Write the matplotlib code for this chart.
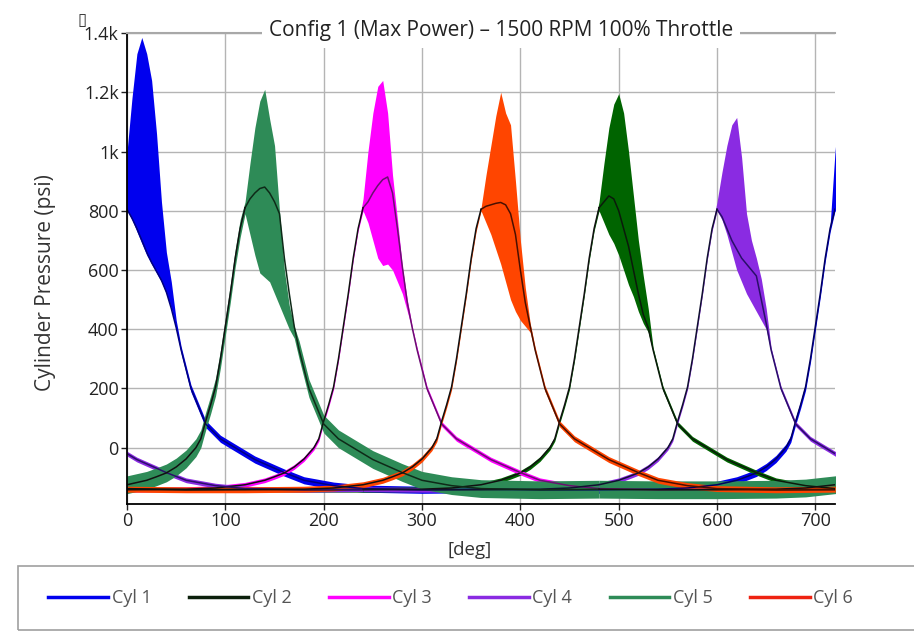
import matplotlib
matplotlib.use("Agg")
import matplotlib.pyplot as plt
import numpy as np
from matplotlib.ticker import FuncFormatter
from matplotlib.lines import Line2D
from matplotlib.patches import Rectangle

plt.rcParams['font.family'] = ['Open Sans', 'DejaVu Sans']

cylinders = ["Cyl 1", "Cyl 2", "Cyl 3", "Cyl 4", "Cyl 5", "Cyl 6"]
tdc_deg = [0, 480, 240, 600, 120, 360]   # firing TDC of each cylinder

# compression stroke (deg rel. to firing TDC, psi)
comp_rel = [-360, -300, -240, -180, -150, -120, -100, -90, -80, -70, -60, -50, -45, -40, -35, -30, -25, -20, -15, -10, -5]
comp_psi = [-140, -142, -142, -140, -136, -125, -110, -98, -85, -65, -38, 0, 30, 90, 145, 205, 300, 410, 520, 640, 740]

# combustion region, cycle to cycle spread (upper / lower envelope) and dark trace
band_rel = [0, 5, 10, 15, 20, 25, 30, 35, 40, 45, 50]
band_hi = [
    [1000, 1180, 1330, 1385, 1330, 1240, 1060, 830, 660, 560, 430],   # Cyl 1
    [830, 960, 1080, 1160, 1195, 1130, 1000, 850, 700, 580, 470],     # Cyl 2
    [840, 1000, 1130, 1220, 1240, 1130, 920, 770, 610, 500, 410],     # Cyl 3
    [830, 930, 1020, 1090, 1115, 980, 790, 700, 640, 570, 470],       # Cyl 4
    [830, 960, 1080, 1170, 1210, 1110, 1020, 800, 600, 480, 410],     # Cyl 5
    [810, 920, 1020, 1120, 1200, 1130, 1090, 900, 700, 540, 420],     # Cyl 6
]
band_lo = [
    [800, 770, 730, 690, 650, 620, 590, 560, 520, 470, 400],
    [800, 760, 720, 690, 650, 600, 550, 510, 460, 420, 390],
    [800, 760, 700, 640, 615, 620, 600, 560, 520, 460, 400],
    [800, 770, 720, 660, 600, 560, 520, 490, 460, 430, 400],
    [790, 720, 650, 590, 575, 560, 520, 480, 440, 400, 370],
    [800, 760, 720, 670, 620, 560, 500, 460, 430, 410, 390],
]
band_mid = [
    [805, 775, 740, 700, 660, 625, 595, 565, 525, 470, 405],
    [810, 830, 850, 840, 800, 740, 680, 600, 520, 450, 405],
    [810, 830, 860, 885, 905, 914, 860, 740, 610, 490, 405],
    [805, 780, 740, 700, 670, 640, 620, 600, 580, 500, 420],
    [810, 840, 860, 875, 880, 860, 830, 790, 640, 520, 410],
    [805, 815, 820, 825, 828, 820, 790, 720, 600, 490, 410],
]

# expansion / exhaust / intake
tail_rel = [55, 65, 80, 95, 110, 130, 160, 180, 210, 240, 300, 360]
tail_psi = [330, 200, 80, 30, 0, -40, -84, -110, -128, -138, -142, -140]

spread_psi = [12, 8, 8, 8, 30, 10]   # band half-thickness outside combustion

fill_colors = ['#0000ee', '#006400', '#ff00ff', '#8a2be2', '#2e8b57', '#ff4500']
dark_colors = ['#000080', '#0b1a0b', '#6a1070', '#2a0f6a', '#0e2a18', '#4a1000']
rise_colors = ['#000060', '#111111', '#111111', '#101030', '#111111', '#111111']
legend_colors = ['#0000ee', '#0b1f0b', '#ff00ff', '#8a2be2', '#2e8b57', '#ee2211']

fig = plt.figure(figsize=(9.14, 6.35), dpi=100)
ax = fig.add_axes([0.139, 0.2063, 0.7746, 0.7417])

for i, name in enumerate(cylinders):
    comp = np.array(comp_psi, dtype=float)
    tail = np.array(tail_psi, dtype=float)
    rel = np.array(comp_rel + band_rel + tail_rel, dtype=float)
    s = spread_psi[i]
    mid = np.concatenate([comp, band_mid[i], tail])
    lo = np.concatenate([comp - s, band_lo[i], tail - s])
    hi = np.concatenate([comp + s, band_hi[i], tail + s])
    n_comp = len(comp_rel)
    for shift in (-720, 0, 720):
        x = rel + tdc_deg[i] + shift
        ax.fill_between(x, lo, hi, color=fill_colors[i], lw=0)
        ax.plot(x[n_comp:], mid[n_comp:], color=dark_colors[i], lw=1.1)
        ax.plot(x[:n_comp + 1], mid[:n_comp + 1], color=rise_colors[i], lw=1.1)

ax.set_xlim(0, 720)
ax.set_ylim(-190, 1400)
ax.set_xticks(np.arange(0, 701, 100))
ax.set_yticks(np.arange(0, 1401, 200))
ax.yaxis.set_major_formatter(FuncFormatter(lambda v, p: f"{v/1000:g}k" if v >= 1000 else f"{v:g}"))
ax.grid(True, color='#b4b4b4', lw=1)
ax.set_axisbelow(True)
ax.spines['right'].set_visible(False)
ax.spines['top'].set_color('#a8a8a8')
ax.spines['top'].set_linewidth(1.5)
ax.spines['left'].set_linewidth(1.3)
ax.spines['bottom'].set_linewidth(1.3)
ax.tick_params(labelsize=13, colors='#222222', length=4, width=1, pad=2)

ax.set_ylabel("Cylinder Pressure (psi)", fontsize=15, color='#333333')
ax.yaxis.set_label_coords(-0.100, 0.47)
fig.text(0.514, 0.134, "[deg]", ha='center', va='center', fontsize=13.5, color='#333333')

fig.text(0.548, 0.952, "Config 1 (Max Power) \u2013 1500 RPM 100% Throttle", ha='center', va='center',
         fontsize=15, color='#222222',
         bbox=dict(facecolor='white', edgecolor='none', pad=5))
fig.text(0.09, 0.967, "\u25af", ha='center', va='center', fontsize=12, color='#333333')

# legend frame
fig.patches.append(Rectangle((0.02, 0.008), 0.985, 0.1, transform=fig.transFigure,
                             facecolor='none', edgecolor='#a0a0a0', lw=1.2))
handles = [Line2D([], [], color=c, lw=2.5) for c in legend_colors]
fig.legend(handles, cylinders, loc='center', ncol=6, bbox_to_anchor=(0.043, 0.028, 0.90, 0.06),
           mode='expand', frameon=False, fontsize=13, handlelength=3.3, handletextpad=0.2,
           borderpad=0, labelcolor='#555555')

fig.savefig("out.png", dpi=100)
